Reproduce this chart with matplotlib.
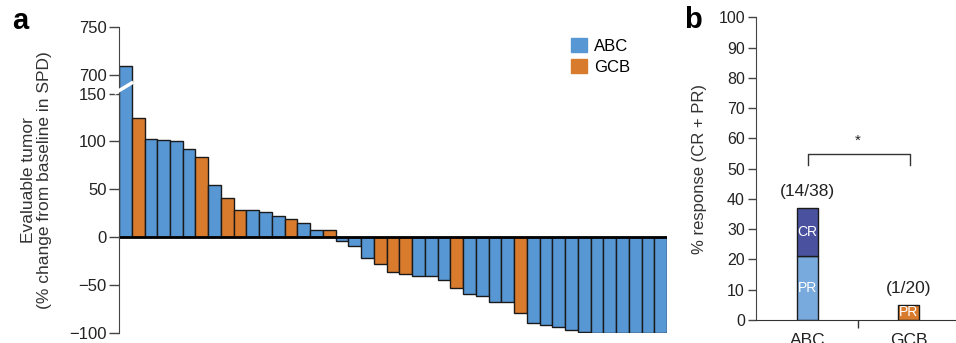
import numpy as np
import matplotlib.pyplot as plt
from matplotlib.patches import Patch

plt.rcParams['font.family'] = ['Liberation Sans', 'DejaVu Sans']

# panel a: waterfall, % change from baseline in SPD
change = [710, 124, 102.8, 101.7, 100.4, 91.8, 83.9, 54.6, 40.9, 28.2, 28.2,
          26.8, 22, 19.6, 14.8, 7.9, 7.9, -3.5, -8.5, -21, -28, -36, -38.5,
          -40.5, -40.5, -44, -53, -59, -61, -67.5, -67.5, -79, -89.5, -91,
          -93.5, -97, -98.5, -100, -100, -100, -100, -100, -100]
subtype = ['ABC', 'GCB', 'ABC', 'ABC', 'ABC', 'ABC', 'GCB', 'ABC', 'GCB', 'GCB', 'ABC',
           'ABC', 'ABC', 'GCB', 'ABC', 'ABC', 'GCB', 'ABC', 'ABC', 'ABC', 'GCB', 'GCB', 'GCB',
           'ABC', 'ABC', 'ABC', 'GCB', 'ABC', 'ABC', 'ABC', 'ABC', 'GCB', 'ABC', 'ABC',
           'ABC', 'ABC', 'ABC', 'ABC', 'ABC', 'ABC', 'ABC', 'ABC', 'ABC']
yticks_a = [-100, -50, 0, 50, 100, 150, 700, 750]

# panel b: response rates
groups = ['ABC', 'GCB']
pr = [8 / 38 * 100, 1 / 20 * 100]
cr = [6 / 38 * 100, 0]
counts = ['(14/38)', '(1/20)']

blue = '#5797d3'
orange = '#d97b2c'
colors = {'ABC': blue, 'GCB': orange}
txt = '#222222'

# broken y axis: 150..700 squeezed into a small gap
def fwd(v):
    v = np.asarray(v, dtype=float)
    return np.where(v <= 150, v, np.where(v < 700, 150 + (v - 150) * 19 / 550, v - 700 + 169))

def inv(d):
    d = np.asarray(d, dtype=float)
    return np.where(d <= 150, d, np.where(d < 169, 150 + (d - 150) * 550 / 19, d + 700 - 169))

fig = plt.figure(figsize=(9.56, 3.43), dpi=100)

ax = fig.add_axes([0.1245, 0.0283, 0.5732, 0.892])
ax.set_yscale('function', functions=(fwd, inv))
x = np.arange(len(change))
ax.bar(x, change, width=1, color=[colors[s] for s in subtype],
       edgecolor='#1a1a1a', linewidth=1)
ax.axhline(0, color='black', lw=2)
ax.set_xlim(-0.5, len(change) - 0.5)
ax.set_ylim(-100, 750)
ax.set_yticks(yticks_a)
ax.set_yticklabels([str(t).replace('-', '\u2212') for t in yticks_a])
ax.yaxis.set_minor_locator(plt.NullLocator())
ax.set_xticks([])
for s in ['top', 'right', 'bottom']:
    ax.spines[s].set_visible(False)
ax.spines['left'].set_color('#444444')
ax.tick_params(axis='y', labelsize=12, colors='#444444', labelcolor=txt, length=7, width=1, pad=2)
ax.set_ylabel('Evaluable tumor\n(% change from baseline in SPD)', fontsize=12.5,
              color='#333333', labelpad=12, linespacing=1.1)
# break mark
ax.plot([-0.75, 0.5], [inv(151), inv(161)], color='white', lw=2.5, clip_on=False, zorder=5)
ax.legend(handles=[Patch(color=blue, label='ABC'), Patch(color=orange, label='GCB')],
          loc='upper left', bbox_to_anchor=(0.825, 0.965), frameon=False, fontsize=12,
          handlelength=0.95, handleheight=0.95, handletextpad=0.45, labelspacing=0.3,
          borderaxespad=0, borderpad=0)
fig.text(0.013, 0.915, 'a', fontsize=21, fontweight='bold', color='black')

bx = fig.add_axes([0.7908, 0.0671, 0.2092, 0.8825])
pos = np.arange(len(groups))
bx.bar(pos[0], pr[0], width=0.21, color='#78aadd', edgecolor='#1a1a1a', lw=1)
bx.bar(pos[0], cr[0], bottom=pr[0], width=0.21, color='#4a52a0', edgecolor='#1a1a1a', lw=1)
bx.bar(pos[1], pr[1], width=0.21, color=orange, edgecolor='#1a1a1a', lw=1)
bx.text(pos[0], pr[0] / 2, 'PR', color='white', ha='center', va='center', fontsize=10)
bx.text(pos[0], pr[0] + cr[0] / 2, 'CR', color='white', ha='center', va='center', fontsize=10)
bx.text(pos[1], pr[1] / 2, 'PR', color='white', ha='center', va='center', fontsize=10)
bx.text(pos[0], pr[0] + cr[0] + 3, counts[0], ha='center', va='bottom', fontsize=12.5, color=txt)
bx.text(pos[1], pr[1] + 3, counts[1], ha='center', va='bottom', fontsize=12.5, color=txt)
bx.plot([0, 0, 1.01, 1.01], [51.3, 54.7, 54.7, 51.3], color='#333333', lw=1)
bx.text(0.5, 57, '*', ha='center', va='bottom', fontsize=11, color=txt)
bx.set_xlim(-0.51, 1.47)
bx.set_ylim(0, 100)
bx.set_yticks(range(0, 101, 10))
bx.set_xticks([0.5])
bx.set_xticklabels([''])
bx.tick_params(axis='x', length=6, width=1, colors='#333333')
for p, g in zip(pos, groups):
    bx.text(p, -4.3, g, ha='center', va='top', fontsize=12.5, color=txt)
bx.tick_params(axis='y', labelsize=11.5, colors='#444444', labelcolor=txt, length=6, width=1, pad=2)
for s in ['top', 'right']:
    bx.spines[s].set_visible(False)
bx.spines['left'].set_color('#444444')
bx.spines['bottom'].set_color('#333333')
bx.set_ylabel('% response (CR + PR)', fontsize=12, color='#333333', labelpad=8)
fig.text(0.716, 0.918, 'b', fontsize=21, fontweight='bold', color='black')

fig.savefig('out.png', dpi=100)
